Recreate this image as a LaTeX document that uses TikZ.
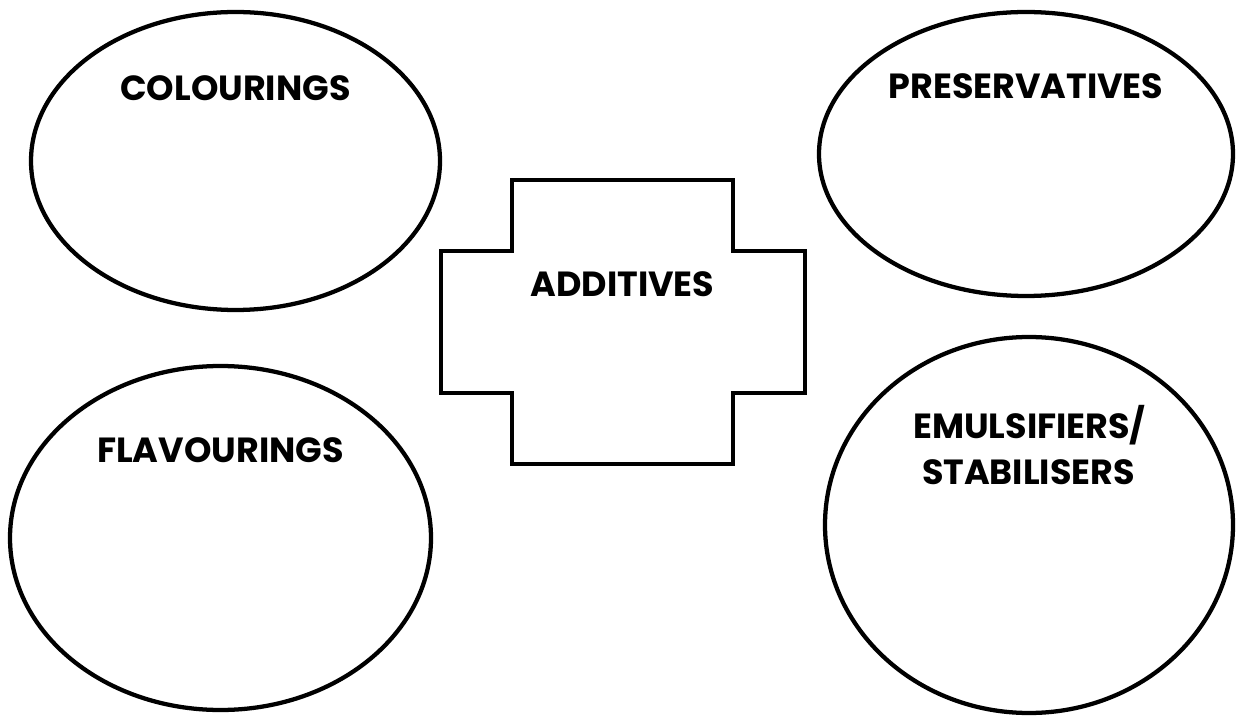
\documentclass[tikz,border=0pt]{standalone}
\usepackage{fontspec}
\setmainfont{Poppins}
\usetikzlibrary{shapes.geometric}
\tikzset{
  bubble/.style={draw=black, line width=3.2pt, ellipse, inner sep=0pt, fill=white},
  lbl/.style={anchor=base, inner sep=0pt, font=\fontsize{26.2}{31}\selectfont\bfseries},
}
\begin{document}
\begin{tikzpicture}[x=0.75pt, y=-0.75pt]
\useasboundingbox[fill=white] (0,0) rectangle (1239,720);
% ellipses
\node[bubble, minimum width=409*0.75pt, minimum height=298*0.75pt] (col) at (235.5,161) {};
\node[bubble, minimum width=414*0.75pt, minimum height=284*0.75pt] (pre) at (1026,154) {};
\node[bubble, minimum width=421*0.75pt, minimum height=344*0.75pt] (fla) at (220.5,538) {};
\node[bubble, minimum width=408*0.75pt, minimum height=376*0.75pt] (emu) at (1029,525) {};
% cross
\draw[line width=3.4pt, line join=miter]
  (512,180) -- (733,180) -- (733,251) -- (805,251) -- (805,393) -- (733,393)
  -- (733,464) -- (512,464) -- (512,393) -- (441,393) -- (441,251) -- (512,251) -- cycle;
% labels
\node[lbl] (tcol) at (235.5,100.5) {COLOURINGS};
\node[lbl] (tpre) at (1026,99) {PRESERVATIVES};
\node[lbl] (tfla) at (220.5,462.5) {FLAVOURINGS};
\node[lbl] (tadd) at (622.5,297) {ADDITIVES};
\node[lbl] (temu1) at (1029.5,438) {EMULSIFIERS/};
\node[lbl] (temu2) at (1028.5,484) {STABILISERS};
\end{tikzpicture}
\end{document}
